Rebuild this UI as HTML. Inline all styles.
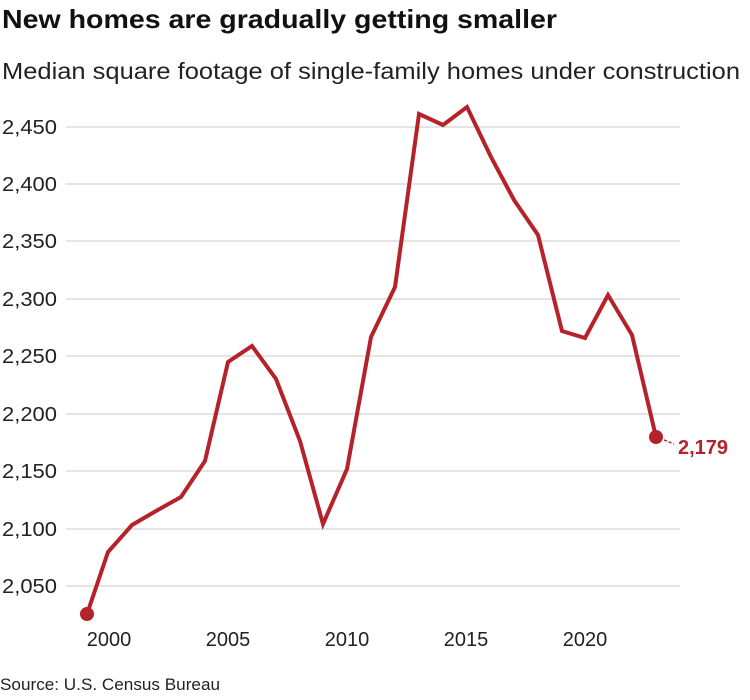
<!DOCTYPE html>
<html><head><style>
body{margin:0;background:#fff;width:750px;height:695px;overflow:hidden;font-family:"Liberation Sans",sans-serif}
</style></head><body>
<svg width="750" height="695" xmlns="http://www.w3.org/2000/svg" font-family="Liberation Sans, sans-serif">
<text x="2" y="28" font-size="26" font-weight="bold" fill="#111" textLength="555" lengthAdjust="spacingAndGlyphs">New homes are gradually getting smaller</text>
<text x="2" y="79" font-size="23" fill="#222" textLength="738" lengthAdjust="spacingAndGlyphs">Median square footage of single-family homes under construction</text>
<g stroke="#dcdcdc" stroke-width="1.5">
<line x1="66" x2="680" y1="127" y2="127"/><line x1="66" x2="680" y1="184" y2="184"/>
<line x1="66" x2="680" y1="241" y2="241"/><line x1="66" x2="680" y1="299" y2="299"/>
<line x1="66" x2="680" y1="356" y2="356"/><line x1="66" x2="680" y1="414" y2="414"/>
<line x1="66" x2="680" y1="471" y2="471"/><line x1="66" x2="680" y1="529" y2="529"/>
<line x1="66" x2="680" y1="586" y2="586"/>
</g>
<g font-size="20" fill="#222">
<text x="2" y="134" textLength="55" lengthAdjust="spacingAndGlyphs">2,450</text><text x="2" y="191" textLength="55" lengthAdjust="spacingAndGlyphs">2,400</text><text x="2" y="248" textLength="55" lengthAdjust="spacingAndGlyphs">2,350</text>
<text x="2" y="306" textLength="55" lengthAdjust="spacingAndGlyphs">2,300</text><text x="2" y="363" textLength="55" lengthAdjust="spacingAndGlyphs">2,250</text><text x="2" y="421" textLength="55" lengthAdjust="spacingAndGlyphs">2,200</text>
<text x="2" y="478" textLength="55" lengthAdjust="spacingAndGlyphs">2,150</text><text x="2" y="536" textLength="55" lengthAdjust="spacingAndGlyphs">2,100</text><text x="2" y="593" textLength="55" lengthAdjust="spacingAndGlyphs">2,050</text>
</g>
<g font-size="20" fill="#222" text-anchor="middle">
<text x="109" y="646">2000</text><text x="228" y="646">2005</text><text x="347" y="646">2010</text>
<text x="466" y="646">2015</text><text x="585" y="646">2020</text>
</g>
<polyline fill="none" stroke="#b5222a" stroke-width="4" stroke-linejoin="miter" points="87,614 108,552 132,525 156,511 181,497 205,461 228,362 252,346 276,379 300,441 323,524 347,469 371,337 395,287 419,114 443,125 467,107 491,157 514,200 538,235 562,331 585,338 608,295 632,335 656,437"/>
<circle cx="87" cy="614" r="7" fill="#b5222a"/>
<circle cx="656" cy="437" r="7" fill="#b5222a"/>
<line x1="664" y1="440" x2="674" y2="444" stroke="#b5222a" stroke-width="1.5" stroke-dasharray="3,2"/>
<text x="678" y="454" font-size="20" font-weight="bold" fill="#b5222a">2,179</text>
<text x="0" y="690" font-size="17" fill="#222" textLength="220" lengthAdjust="spacingAndGlyphs">Source: U.S. Census Bureau</text>
</svg>
</body></html>
